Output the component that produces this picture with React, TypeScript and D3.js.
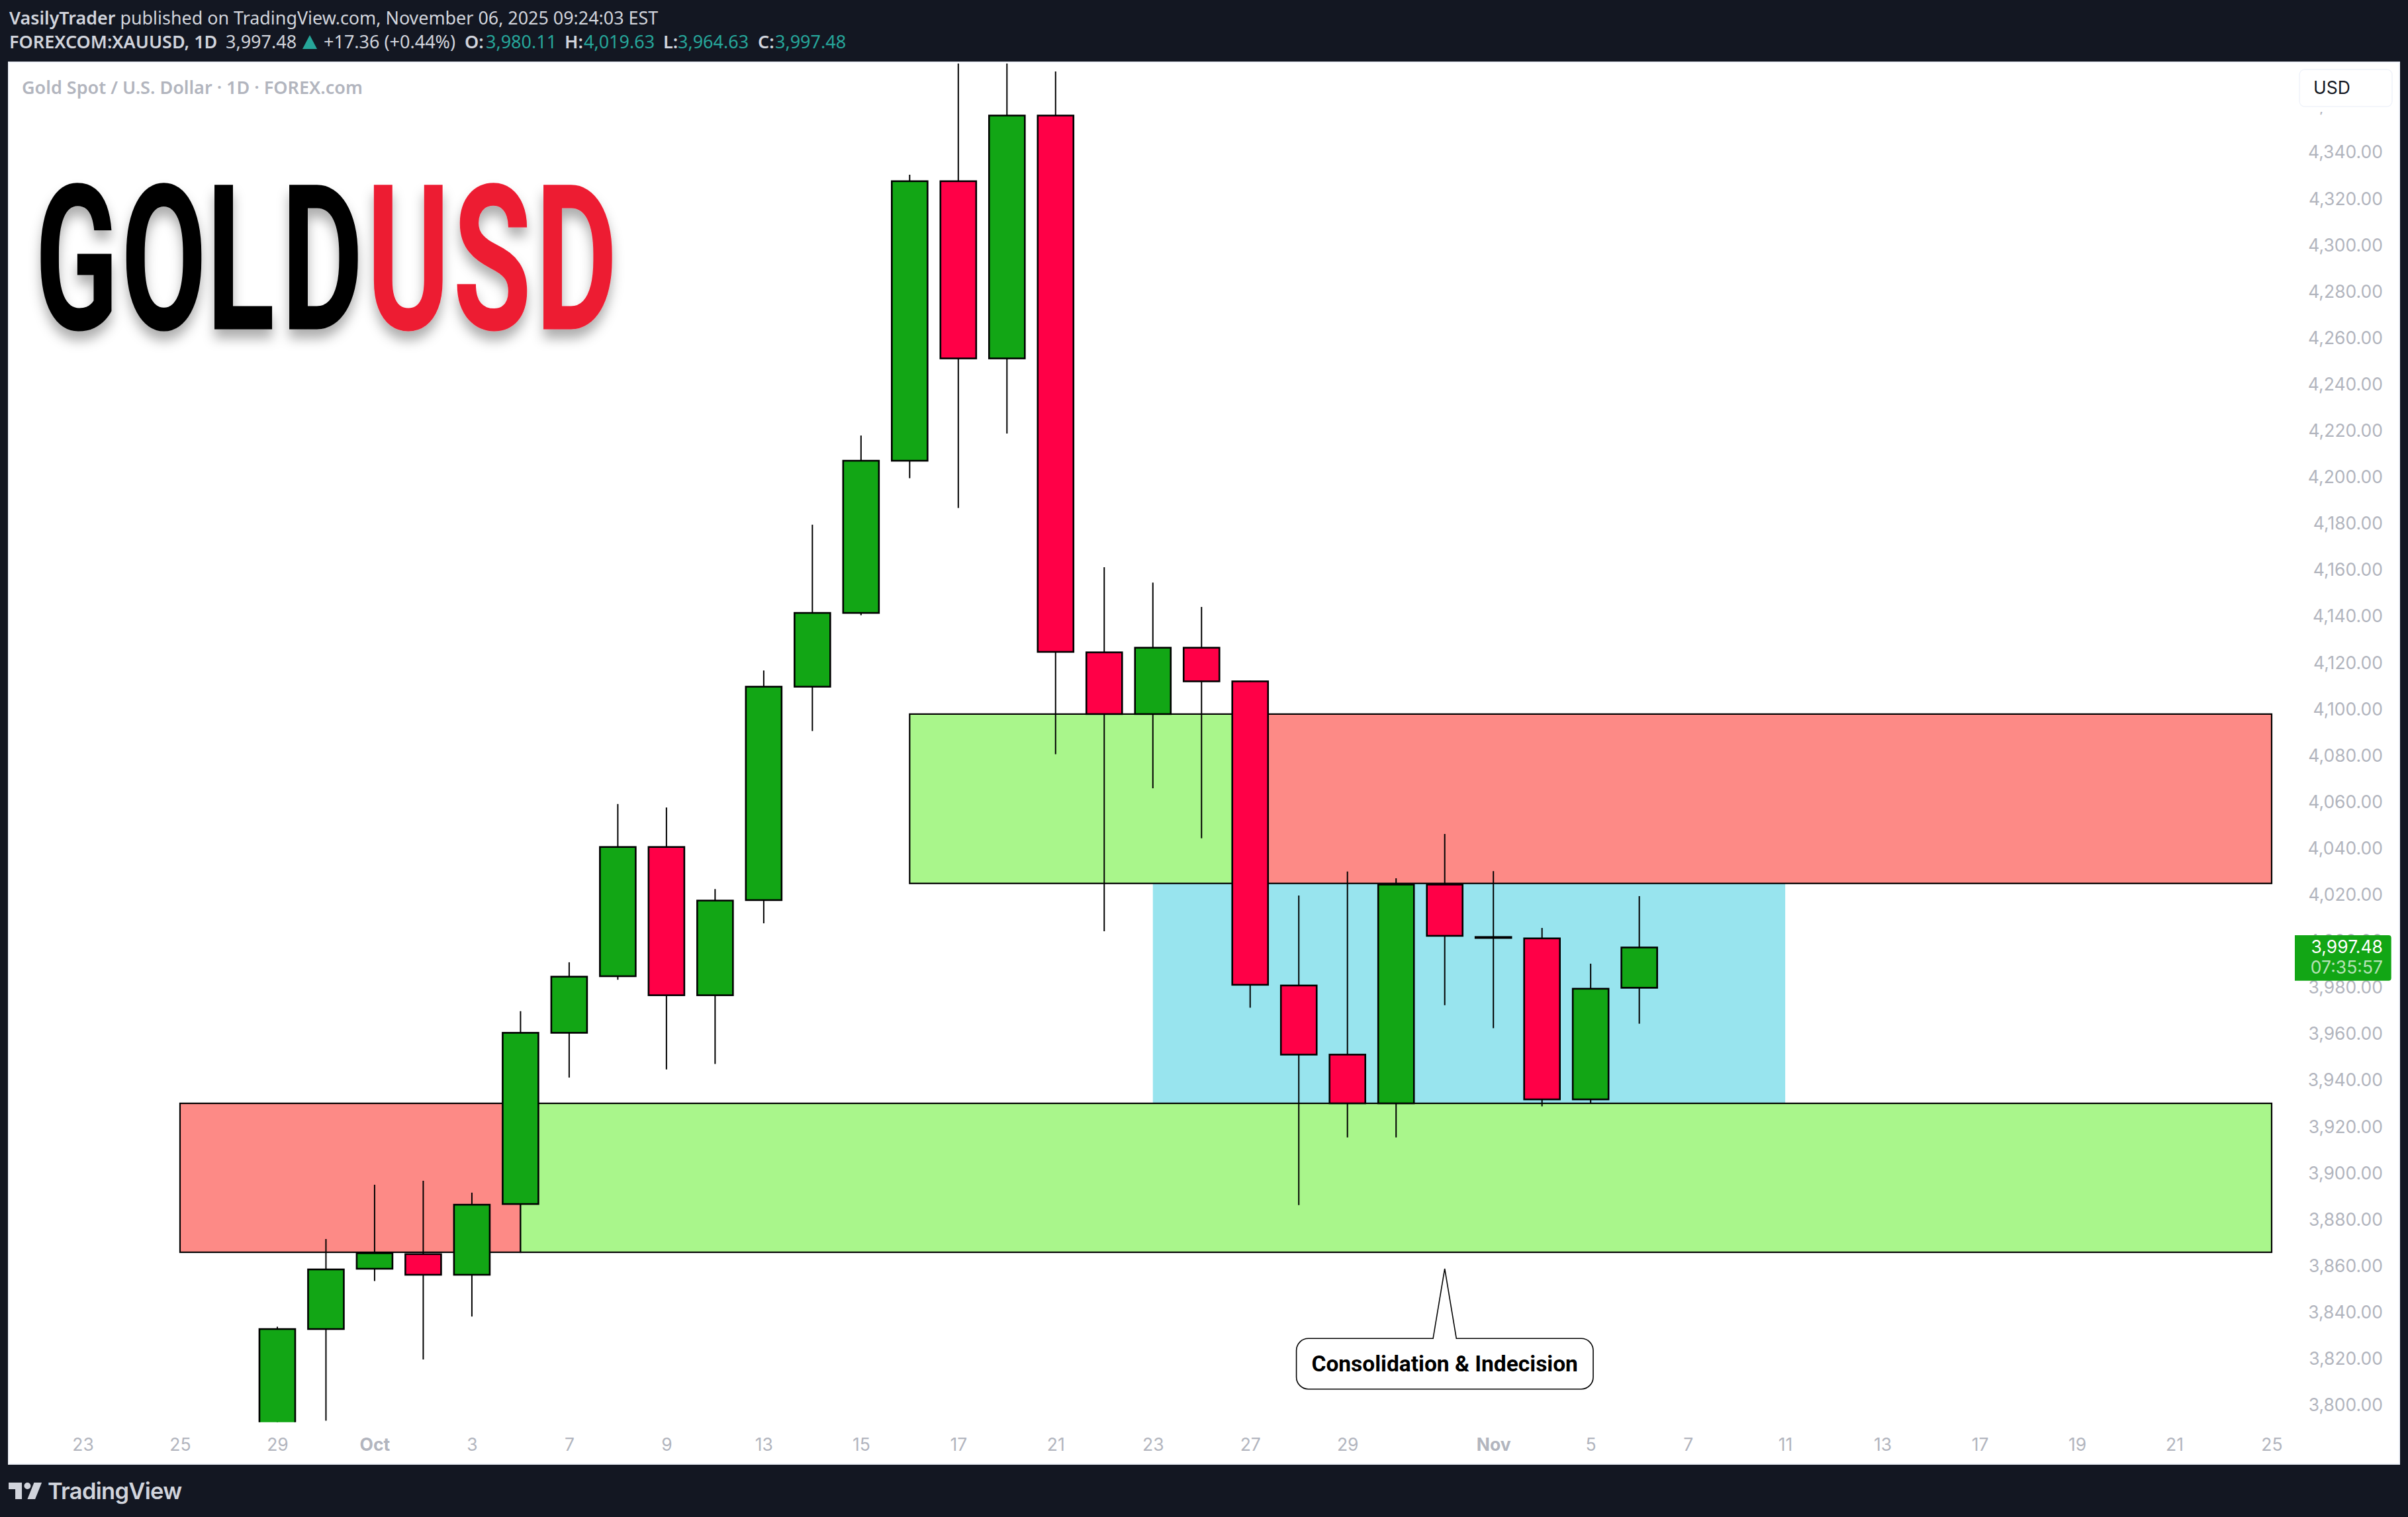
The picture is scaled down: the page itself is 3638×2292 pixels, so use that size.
import * as d3 from "d3";
import React, { useEffect, useRef } from "react";

// trading days on the time axis
const axisDates = [
  "09-23", "09-24", "09-25", "09-26", "09-29", "09-30", "10-01", "10-02", "10-03", "10-06",
  "10-07", "10-08", "10-09", "10-10", "10-13", "10-14", "10-15", "10-16", "10-17", "10-20",
  "10-21", "10-22", "10-23", "10-24", "10-27", "10-28", "10-29", "10-30", "10-31", "11-03",
  "11-04", "11-05", "11-06", "11-07", "11-10", "11-11", "11-12", "11-13", "11-14", "11-17",
  "11-18", "11-19", "11-20", "11-21", "11-24", "11-25",
];
const axisTickDates = [
  "09-23", "09-25", "09-29", "10-01", "10-03", "10-07", "10-09", "10-13", "10-15", "10-17", "10-21", "10-23",
  "10-27", "10-29", "11-03", "11-05", "11-07", "11-11", "11-13", "11-17", "11-19", "11-21", "11-25",
];
const axisTickLabels = [
  "23", "25", "29", "Oct", "3", "7", "9", "13", "15", "17", "21", "23",
  "27", "29", "Nov", "5", "7", "11", "13", "17", "19", "21", "25",
];
const priceTicks = d3.range(3800, 4361, 20);

// OHLC, first candle is Sep 29
const candleDates = axisDates.slice(4, 33);
const opens = [
  3790, 3833, 3859, 3865.3, 3856.4, 3886.9, 3960.7, 3985.1, 4040.8, 3976.9, 4017.9, 4109.9, 4141.7, 4207.3, 4327.8,
  4251.4, 4356.1, 4124.7, 4098.1, 4126.7, 4112.2, 3981.1, 3951.3, 3930.3, 4024.6, 4002, 4001.4, 3932, 3980.11,
];
const highs = [
  3834, 3871.8, 3895.2, 3896.9, 3891.8, 3970, 3991.1, 4059.3, 4057.8, 4022.7, 4116.9, 4179.7, 4218.2, 4330.6, 4400,
  4400, 4375.1, 4161.4, 4154.8, 4144.3, 4112.5, 4019.9, 4030.2, 4027.3, 4046.4, 4030.4, 4005.9, 3990.5, 4019.63,
];
const lows = [
  3785, 3793.5, 3853.7, 3819.9, 3838.4, 3886.5, 3941.4, 3983.6, 3944.9, 3947.3, 4007.9, 4090.8, 4140.7, 4199.8, 4186.9,
  4219, 4080.8, 4004.5, 4066.1, 4044.6, 3971.5, 3886.4, 3915.6, 3915.6, 3972.6, 3962.7, 3929, 3930.3, 3964.63,
];
const closes = [
  3833, 3858.7, 3865.7, 3856.4, 3886.6, 3960.7, 3984.9, 4040.8, 3976.9, 4017.7, 4109.9, 4141.7, 4207.3, 4327.8, 4251.4,
  4356.1, 4124.9, 4098.1, 4126.7, 4112.2, 3981.4, 3951.3, 3930.3, 4024.6, 4002.5, 4001.6, 3932, 3979.7, 3997.48,
];

// drawn zones, painted in this order
const zoneStarts = ["10-23", "09-25", "10-06", "10-27", "10-16"];
const zoneEnds = ["11-11", "10-06", "11-25", "11-25", "10-27"];
const zoneTops = [4025.1, 3930.3, 3930.3, 4098.1, 4098.1];
const zoneBottoms = [3930.3, 3866.1, 3866.1, 4025.1, 4025.1];
const zoneColors = ["#98e4ee", "#fd8a86", "#a9f68b", "#fd8a86", "#a9f68b"];

const titleLetters = ["G", "O", "L", "D", "U", "S", "D"];
const titleLefts = [53, 183, 312, 425, 554, 684, 809];
const titleScales = [0.6, 0.61, 0.62, 0.62, 0.62, 0.63, 0.62];
const titleColors = ["#000", "#000", "#000", "#000", "#ed1c30", "#ed1c30", "#ed1c30"];

const WIDTH = 3638;
const HEIGHT = 2292;
const BG = "#131722";
const UP = "#12a615";
const DOWN = "#ff0047";
const AXIS_TEXT = "#b2b5be";
const HEAD_TEXT = "#d1d4dc";
const TEAL = "#26a69a";
const UI_FONT = "Inter, sans-serif";
const HEAD_FONT = "'Noto Sans', sans-serif";

const App: React.FC = () => {
  const svgRef = useRef<SVGSVGElement>(null);

  useEffect(() => {
    if (!svgRef.current) return;
    const svg = d3.select(svgRef.current);
    svg.selectAll("*").remove();

    const x = d3.scalePoint<string>().domain(axisDates).range([125, 3432]);
    const y = d3.scaleLinear().domain([3800, 4340]).range([2123.7, 231]);
    const px = (d: string) => x(d) as number;
    const bodyWidth = x.step() * 0.735;

    const defs = svg.append("defs");
    defs
      .append("clipPath")
      .attr("id", "pane")
      .append("rect")
      .attr("x", 13)
      .attr("y", 96)
      .attr("width", 3612)
      .attr("height", 2052.7);
    const shadow = defs
      .append("filter")
      .attr("id", "titleShadow")
      .attr("x", "-40%")
      .attr("y", "-20%")
      .attr("width", "180%")
      .attr("height", "150%");
    shadow
      .append("feDropShadow")
      .attr("dx", 0)
      .attr("dy", 14)
      .attr("stdDeviation", 9)
      .attr("flood-color", "#000")
      .attr("flood-opacity", 0.32);

    svg.append("rect").attr("width", WIDTH).attr("height", HEIGHT).attr("fill", BG);
    svg
      .append("rect")
      .attr("x", 13)
      .attr("y", 94)
      .attr("width", 3612)
      .attr("height", 2118)
      .attr("fill", "#fff")
      .attr("stroke", "#f0f3fa")
      .attr("stroke-width", 2);

    // Price axis, the 4,360 and 4,000 labels sit under the badges
    const yAxis = svg
      .append("g")
      .attr("transform", "translate(3600,0)")
      .call(
        d3
          .axisRight(y)
          .tickValues(priceTicks)
          .tickSize(0)
          .tickFormat((d) => d3.format(",.2f")(d as number)),
      );
    yAxis.select(".domain").remove();
    yAxis
      .selectAll("text")
      .attr("x", 0)
      .attr("dy", "0.3em")
      .attr("text-anchor", "end")
      .attr("fill", AXIS_TEXT)
      .style("font-family", UI_FONT)
      .style("font-size", "26.5px");

    // Time axis
    const xAxis = svg
      .append("g")
      .attr("transform", "translate(0,2182)")
      .call(
        d3
          .axisBottom(x)
          .tickValues(axisTickDates)
          .tickSize(0)
          .tickFormat((_, i) => axisTickLabels[i]),
      );
    xAxis.select(".domain").remove();
    xAxis
      .selectAll("text")
      .attr("y", 0)
      .attr("dy", "0.36em")
      .attr("fill", AXIS_TEXT)
      .style("font-family", UI_FONT)
      .style("font-size", "26.5px")
      .style("font-weight", (_, i) => (axisTickLabels[i].length === 3 ? 700 : 400));

    const pane = svg.append("g").attr("clip-path", "url(#pane)");

    // Zones
    const zones = zoneColors.map((fill, i) => ({
      fill,
      x0: px(zoneStarts[i]),
      x1: px(zoneEnds[i]),
      y0: y(zoneTops[i]),
      y1: y(zoneBottoms[i]),
    }));
    pane
      .selectAll("rect.zone")
      .data(zones)
      .join("rect")
      .attr("class", "zone")
      .attr("x", (d) => d.x0)
      .attr("y", (d) => d.y0)
      .attr("width", (d) => d.x1 - d.x0)
      .attr("height", (d) => d.y1 - d.y0)
      .attr("fill", (d) => d.fill)
      .attr("stroke", (_, i) => (i === 0 ? "none" : "#000"))
      .attr("stroke-width", 2.2);

    // Candles
    const candles = candleDates.map((date, i) => ({
      date,
      open: opens[i],
      high: highs[i],
      low: lows[i],
      close: closes[i],
    }));
    pane
      .selectAll("line.wick")
      .data(candles)
      .join("line")
      .attr("class", "wick")
      .attr("x1", (d) => px(d.date))
      .attr("x2", (d) => px(d.date))
      .attr("y1", (d) => y(d.high))
      .attr("y2", (d) => y(d.low))
      .attr("stroke", "#000")
      .attr("stroke-width", 2);
    pane
      .selectAll("rect.body")
      .data(candles)
      .join("rect")
      .attr("class", "body")
      .attr("x", (d) => px(d.date) - bodyWidth / 2)
      .attr("width", bodyWidth)
      .attr("y", (d) => y(Math.max(d.open, d.close)))
      .attr("height", (d) => Math.abs(y(d.open) - y(d.close)))
      .attr("fill", (d) => (d.close >= d.open ? UP : DOWN))
      .attr("stroke", "#000")
      .attr("stroke-width", 2.6);

    // Callout
    const tipX = px("10-31");
    const tipY = y(3859);
    const box = { left: 1958.6, right: 2407, top: 2022.3, bottom: 2098.7, r: 18 };
    const callout = d3.path();
    callout.moveTo(box.left + box.r, box.top);
    callout.lineTo(tipX - 17.6, box.top);
    callout.lineTo(tipX, tipY);
    callout.lineTo(tipX + 17.6, box.top);
    callout.lineTo(box.right - box.r, box.top);
    callout.arcTo(box.right, box.top, box.right, box.top + box.r, box.r);
    callout.lineTo(box.right, box.bottom - box.r);
    callout.arcTo(box.right, box.bottom, box.right - box.r, box.bottom, box.r);
    callout.lineTo(box.left + box.r, box.bottom);
    callout.arcTo(box.left, box.bottom, box.left, box.bottom - box.r, box.r);
    callout.lineTo(box.left, box.top + box.r);
    callout.arcTo(box.left, box.top, box.left + box.r, box.top, box.r);
    callout.closePath();
    svg
      .append("path")
      .attr("d", callout.toString())
      .attr("fill", "#fff")
      .attr("stroke", "#000")
      .attr("stroke-width", 1.6);
    svg
      .append("text")
      .attr("x", tipX)
      .attr("y", 2060)
      .attr("dy", "0.35em")
      .attr("text-anchor", "middle")
      .attr("fill", "#000")
      .style("font-family", "Roboto, sans-serif")
      .style("font-weight", 700)
      .style("font-size", "33.5px")
      .text("Consolidation & Indecision");

    // USD badge, with a white backing that hides the 4,360 digits but not the comma tail
    svg.append("rect").attr("x", 3474).attr("y", 150).attr("width", 140).attr("height", 19).attr("fill", "#fff");
    svg
      .append("rect")
      .attr("x", 3474)
      .attr("y", 105)
      .attr("width", 140)
      .attr("height", 56)
      .attr("rx", 8)
      .attr("fill", "#fff")
      .attr("stroke", "#f0f3fa")
      .attr("stroke-width", 1.5);
    svg
      .append("text")
      .attr("x", 3495)
      .attr("y", 132)
      .attr("dy", "0.36em")
      .attr("fill", "#131722")
      .style("font-family", UI_FONT)
      .style("font-size", "26.5px")
      .text("USD");

    // Last price badge
    const badge = d3.path();
    badge.moveTo(3467, 1413);
    badge.lineTo(3608.7, 1413);
    badge.arcTo(3612.7, 1413, 3612.7, 1417, 4);
    badge.lineTo(3612.7, 1477.7);
    badge.arcTo(3612.7, 1481.7, 3608.7, 1481.7, 4);
    badge.lineTo(3467, 1481.7);
    badge.closePath();
    svg.append("path").attr("d", badge.toString()).attr("fill", UP);
    [
      { text: d3.format(",.2f")(closes[closes.length - 1]), cy: 1430, fill: "#fff" },
      { text: "07:35:57", cy: 1461, fill: "rgba(255,255,255,0.7)" },
    ].forEach((d) => {
      svg
        .append("text")
        .attr("x", 3600)
        .attr("y", d.cy)
        .attr("dy", "0.36em")
        .attr("text-anchor", "end")
        .attr("fill", d.fill)
        .style("font-family", UI_FONT)
        .style("font-size", "26.5px")
        .text(d.text);
    });

    // Big GOLDUSD title
    const title = svg.append("g").attr("filter", "url(#titleShadow)");
    title
      .selectAll("text")
      .data(titleLetters)
      .join("text")
      .attr("transform", (_, i) => `translate(${titleLefts[i]},497.5) scale(${titleScales[i]},1)`)
      .attr("fill", (_, i) => titleColors[i])
      .style("font-family", "Roboto, sans-serif")
      .style("font-weight", 700)
      .style("font-size", "307px")
      .text((d) => d);

    // Symbol description inside the pane
    svg
      .append("text")
      .attr("x", 33)
      .attr("y", 132.5)
      .attr("dy", "0.35em")
      .attr("fill", AXIS_TEXT)
      .style("font-family", HEAD_FONT)
      .style("font-weight", 600)
      .style("font-size", "27px")
      .text("Gold Spot / U.S. Dollar · 1D · FOREX.com");

    // Header lines
    const line1 = svg
      .append("text")
      .attr("x", 14)
      .attr("y", 28)
      .attr("dy", "0.35em")
      .attr("fill", HEAD_TEXT)
      .style("font-family", HEAD_FONT)
      .style("font-size", "26.9px");
    line1.append("tspan").style("font-weight", 600).text("VasilyTrader");
    line1.append("tspan").text(" published on TradingView.com, November 06, 2025 09:24:03 EST");

    const ohlcPieces = [
      { text: "FOREXCOM:XAUUSD, 1D", left: 14, bold: true, fill: HEAD_TEXT },
      { text: "3,997.48", left: 341, bold: false, fill: HEAD_TEXT },
      { text: "+17.36 (+0.44%)", left: 489, bold: false, fill: HEAD_TEXT },
      { text: "O:", left: 702, bold: true, fill: HEAD_TEXT },
      { text: "3,980.11", left: 734, bold: false, fill: TEAL },
      { text: "H:", left: 853, bold: true, fill: HEAD_TEXT },
      { text: "4,019.63", left: 882, bold: false, fill: TEAL },
      { text: "L:", left: 1002, bold: true, fill: HEAD_TEXT },
      { text: "3,964.63", left: 1024, bold: false, fill: TEAL },
      { text: "C:", left: 1145, bold: true, fill: HEAD_TEXT },
      { text: "3,997.48", left: 1171, bold: false, fill: TEAL },
    ];
    svg
      .selectAll("text.ohlc")
      .data(ohlcPieces)
      .join("text")
      .attr("class", "ohlc")
      .attr("x", (d) => d.left)
      .attr("y", 64)
      .attr("dy", "0.35em")
      .attr("fill", (d) => d.fill)
      .style("font-family", HEAD_FONT)
      .style("font-weight", (d) => (d.bold ? 600 : 400))
      .style("font-size", "27px")
      .text((d) => d.text);
    svg.append("path").attr("d", "M468 53 L479 74 L457 74 Z").attr("fill", TEAL);

    // TradingView footer logo
    svg
      .append("path")
      .attr("d", "M14 6H2v6h6v9h6V6zm12 15h-7l6-15h7l-6 15zm-7-9a3 3 0 1 0 0-6 3 3 0 0 0 0 6z")
      .attr("transform", "translate(9.7,2230) scale(1.67)")
      .attr("fill", HEAD_TEXT);
    svg
      .append("text")
      .attr("x", 72)
      .attr("y", 2265)
      .attr("fill", HEAD_TEXT)
      .style("font-family", "Inter, sans-serif")
      .style("font-weight", 600)
      .style("font-size", "34.5px")
      .style("letter-spacing", "-0.7px")
      .text("TradingView");
  }, []);

  return (
    <svg
      ref={svgRef}
      width={WIDTH}
      height={HEIGHT}
      style={{ position: "absolute", top: 0, left: 0, display: "block" }}
    />
  );
};

export default App;
